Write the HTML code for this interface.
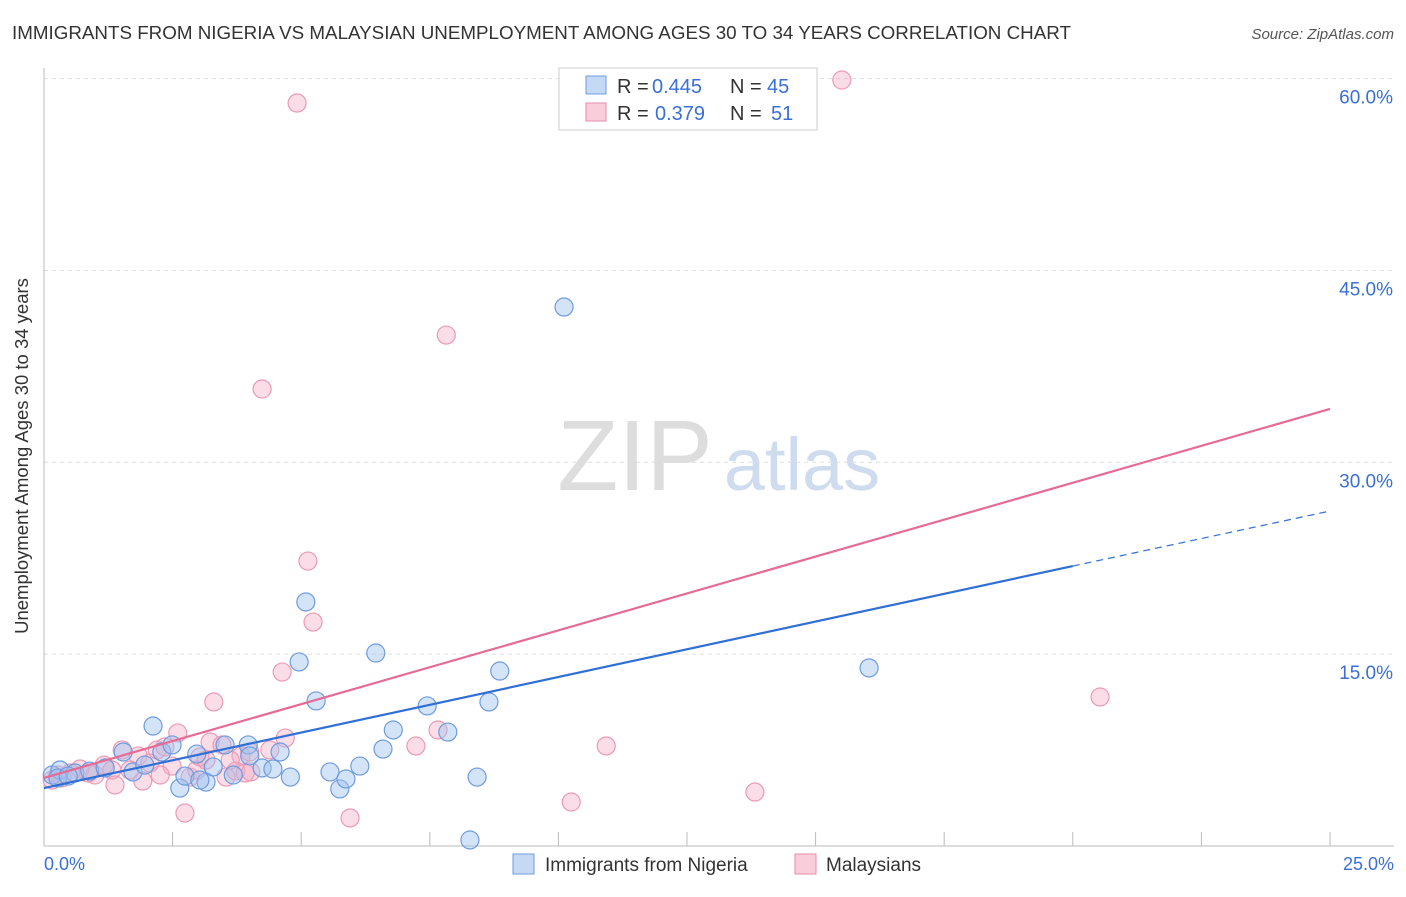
<!DOCTYPE html>
<html><head><meta charset="utf-8"><style>
body{margin:0;background:#fff;font-family:"Liberation Sans",sans-serif;}
svg text{font-family:"Liberation Sans",sans-serif;}
</style></head><body>
<svg width="1406" height="892" xmlns="http://www.w3.org/2000/svg">
<text x="12" y="39" font-size="18.8" fill="#333">IMMIGRANTS FROM NIGERIA VS MALAYSIAN UNEMPLOYMENT AMONG AGES 30 TO 34 YEARS CORRELATION CHART</text>
<text x="1394" y="39" font-size="15" fill="#555" font-style="italic" text-anchor="end">Source: ZipAtlas.com</text>
<g>
<text x="635" y="490" font-size="100" fill="#ddd" font-family="Liberation Serif" text-anchor="middle">ZIP</text>
<text x="802" y="490" font-size="74" fill="#cfdcf0" text-anchor="middle">atlas</text>
</g>
<g id="grid"></g>
<g id="axes"></g>
<g id="marks"></g>
<g id="trends"></g>
<text x="28" y="456" font-size="18.5" fill="#333" text-anchor="middle" transform="rotate(-90 28 456)">Unemployment Among Ages 30 to 34 years</text>
<text x="44" y="870" font-size="18" fill="#3a6fd8">0.0%</text>
<text x="1394" y="870" font-size="18" fill="#3a6fd8" text-anchor="end">25.0%</text>
<g>
<rect x="559" y="68" width="258" height="62" fill="#fff" stroke="#ccc"/>
<rect x="586" y="76" width="20" height="18" fill="#c5d8f5" stroke="#6f9be0"/>
<rect x="586" y="103" width="20" height="18" fill="#f9cdd9" stroke="#e88aa8"/>
<text y="93" font-size="20" fill="#333"><tspan x="617">R =</tspan><tspan x="652" fill="#3a6fd8">0.445</tspan><tspan x="730">N =</tspan><tspan x="767" fill="#3a6fd8">45</tspan></text>
<text y="120" font-size="20" fill="#333"><tspan x="617">R =</tspan><tspan x="655" fill="#3a6fd8">0.379</tspan><tspan x="730">N =</tspan><tspan x="771" fill="#3a6fd8">51</tspan></text>
</g>
<g>
<rect x="513" y="854" width="21" height="20" fill="#c5d8f5" stroke="#6f9be0"/>
<text x="545" y="871" font-size="19" fill="#333">Immigrants from Nigeria</text>
<rect x="795" y="854" width="21" height="20" fill="#f9cdd9" stroke="#e88aa8"/>
<text x="826" y="871" font-size="19" fill="#333">Malaysians</text>
</g>
</svg>
<script>
const yTicks=[15,30,45,60];
const yTickLabels=["15.0%","30.0%","45.0%","60.0%"];
const xTicks=[0,2.5,5,7.5,10,12.5,15,17.5,20,22.5,25];
const blueX=[0.16,0.31,0.60,0.89,1.19,1.54,1.73,1.96,2.12,2.29,2.49,2.64,2.74,2.97,3.15,3.29,3.52,3.68,3.97,4.00,4.24,4.45,4.59,4.79,4.96,5.09,5.29,5.56,5.75,5.87,6.14,6.45,6.59,6.79,7.45,7.85,8.28,8.42,8.65,8.86,10.11,16.04,0.27,0.47,3.03];
const blueY=[5.55,5.94,5.71,5.86,6.10,7.35,5.79,6.33,9.38,7.35,7.90,4.53,5.47,7.19,5.00,6.18,7.90,5.55,7.90,7.04,6.10,6.02,7.35,5.39,14.39,19.08,11.34,5.79,4.46,5.24,6.25,15.09,7.58,9.07,10.95,8.91,0.47,5.39,11.26,13.68,42.14,13.92,5.32,5.47,5.16];
const pinkX=[0.16,0.35,0.51,0.70,0.99,1.17,1.32,1.38,1.52,1.83,1.92,2.06,2.20,2.35,2.49,2.60,2.74,2.84,2.97,3.03,3.15,3.30,3.23,3.46,3.54,3.73,3.83,3.91,4.02,4.24,4.63,4.69,4.92,5.13,5.23,5.95,7.23,7.66,7.82,10.25,10.93,13.82,15.51,20.53,0.86,1.67,2.26,3.62,4.00,4.39,0.27];
const pinkY=[5.16,5.32,5.71,6.02,5.55,6.33,5.94,4.77,7.51,7.04,5.08,6.49,7.51,7.74,6.25,8.84,2.58,5.39,5.94,6.96,6.72,11.26,8.13,7.90,5.39,5.86,7.04,5.71,5.79,35.73,13.60,8.44,58.09,22.28,17.51,2.19,7.82,9.07,39.95,3.44,7.82,4.22,59.89,11.65,5.71,5.94,5.55,6.72,7.35,7.51,5.55];
const blueTrend=[4.53,21.89,26.19]; // at x=0, 20, 25
const pinkTrend=[5.32,34.17]; // at x=0, 25
const NS="http://www.w3.org/2000/svg";
const X=v=>44+v/25*1286, Y=v=>846-v*12.79;
function mk(p,t,a){const e=document.createElementNS(NS,t);for(const k in a)e.setAttribute(k,a[k]);p.appendChild(e);return e;}
const grid=document.getElementById('grid'),axes=document.getElementById('axes'),marks=document.getElementById('marks'),trends=document.getElementById('trends');
yTicks.forEach((t,i)=>{
 const l=mk(grid,'line',{x1:44,x2:1394,y1:Y(t),y2:Y(t),stroke:'#ddd','stroke-dasharray':'4,4'});
 
 
 const tx=mk(grid,'text',{x:1393,y:Y(t)+25,'font-size':19,fill:'#3a6fd8','text-anchor':'end'});
 tx.textContent=yTickLabels[i];
 
 
});
mk(axes,'line',{x1:44,x2:44,y1:68,y2:846,stroke:'#bbb'});
mk(axes,'line',{x1:44,x2:1394,y1:846,y2:846,stroke:'#bbb'});
xTicks.forEach(t=>{const l=mk(axes,'line',{x1:X(t),x2:X(t),y1:832,y2:846,stroke:'#bbb'});
 
 });
pinkX.forEach((v,i)=>{const c=mk(marks,'circle',{cx:X(v),cy:Y(pinkY[i]),r:9,fill:'rgba(246,170,194,0.4)',stroke:'#ec9ab4','stroke-width':1.2});
 
 });
blueX.forEach((v,i)=>{const c=mk(marks,'circle',{cx:X(v),cy:Y(blueY[i]),r:9,fill:'rgba(160,195,240,0.45)',stroke:'#6f9be0','stroke-width':1.2});
 
 });
const bl=mk(trends,'line',{x1:X(0),y1:Y(blueTrend[0]),x2:X(20),y2:Y(blueTrend[1]),stroke:'#2f6fd6','stroke-width':2.2});


const bd=mk(trends,'line',{x1:X(20),y1:Y(blueTrend[1]),x2:X(25),y2:Y(blueTrend[2]),stroke:'#2f6fd6','stroke-width':1.2,'stroke-dasharray':'7,5'});


const pl=mk(trends,'line',{x1:X(0),y1:Y(pinkTrend[0]),x2:X(25),y2:Y(pinkTrend[1]),stroke:'#e66b94','stroke-width':2.2});


</script>
</body></html>
